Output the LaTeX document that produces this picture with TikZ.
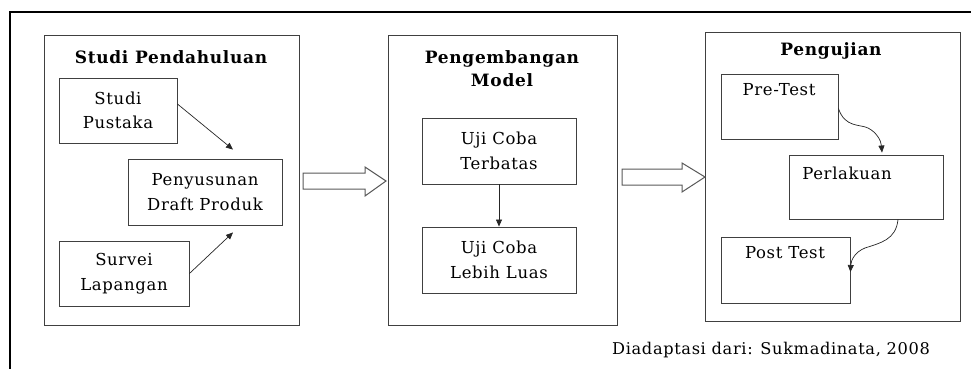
\documentclass[tikz,border=0pt]{standalone}
\usepackage{fontspec}
\setmainfont{DejaVu Serif}[LetterSpace=4]
\usetikzlibrary{arrows.meta}
\begin{document}
\begin{tikzpicture}[x=1pt,y=-1pt,
  box/.style={draw=black!75,line width=0.9pt,inner sep=0pt,align=center,font=\fontsize{16.5}{24.5}\selectfont},
  ttl/.style={inner sep=0pt,align=center,font=\fontsize{17}{23}\selectfont\bfseries},
  lbl/.style={inner sep=0pt,font=\fontsize{16.5}{24.5}\selectfont},
  arr/.style={-{Triangle[length=7pt,width=6pt]},line width=0.7pt,draw=black!85},
  hollow/.style={draw=black!65,line width=1pt,fill=white,line join=miter}
]
\useasboundingbox (0,0) rectangle (971,369);
% outer frame (partly visible)
\draw[line width=1.3pt] (10,369) -- (10,12) -- (971,12);

% big boxes
\node[box,minimum width=255pt,minimum height=290pt] (b1) at (171.5,180) {};
\node[box,minimum width=229pt,minimum height=290pt] (b2) at (502.5,180) {};
\node[box,minimum width=255pt,minimum height=289pt] (b3) at (832.5,176.5) {};

% titles
\node[ttl] (t1) at (171,57) {Studi Pendahuluan};
\node[ttl] (t2) at (502,68.5) {Pengembangan\\Model};
\node[ttl] (t3) at (831,51) {Pengujian};

% Studi Pendahuluan
\node[box,minimum width=118pt,minimum height=65pt] (sp) at (118,110.5) {Studi\\Pustaka};
\node[box,minimum width=154pt,minimum height=66pt] (pd) at (205,192) {Penyusunan\\Draft Produk};
\node[box,minimum width=130pt,minimum height=65pt] (sl) at (124,273.5) {Survei\\Lapangan};
\draw[arr] ([yshift=6.5pt]sp.east) -- ([xshift=28pt,yshift=9pt]pd.north);
\draw[arr] (sl.east) -- ([xshift=28pt,yshift=-7pt]pd.south);

% Pengembangan Model
\node[box,minimum width=154pt,minimum height=66pt] (ut) at (499,151) {Uji Coba\\Terbatas};
\node[box,minimum width=154pt,minimum height=66pt] (ul) at (499,260) {Uji Coba\\Lebih Luas};
\draw[arr] (ut.south) -- (ul.north);

% Pengujian
\node[box,minimum width=117pt,minimum height=65pt] (pre) at (779.5,106.5) {};
\node[box,minimum width=154pt,minimum height=64pt] (per) at (866,187) {};
\node[box,minimum width=129pt,minimum height=66pt] (post) at (785.5,270) {};
\node[lbl] (pretxt) at (779,90) {Pre-Test};
\node[lbl] (pertxt) at (847,173) {Perlakuan};
\node[lbl] (posttxt) at (785,253) {Post Test};
\draw[arr] ([yshift=-2pt]pre.east) .. controls (845,128) and (860,124) .. (868,128)
  .. controls (876,132) and (881,140) .. ([xshift=16pt,yshift=2pt]per.north);
\draw[arr] ([xshift=32pt]per.south) .. controls (896,240) and (880,243) .. (865,248)
  .. controls (855,252) and (851,260) .. ([yshift=-2pt]post.east);

% hollow block arrows
\draw[hollow] (303,173) -- (365,173) -- (365,167) -- (386,181) -- (365,196) -- (365,189) -- (303,189) -- cycle;
\draw[hollow] (622,169) -- (682,169) -- (682,163) -- (705,177) -- (682,192) -- (682,185) -- (622,185) -- cycle;

% caption
\node[inner sep=0pt,anchor=west,font=\fontsize{16.2}{18}\selectfont] (cap) at (612,350) {Diadaptasi dari: Sukmadinata, 2008};
\end{tikzpicture}
\end{document}
